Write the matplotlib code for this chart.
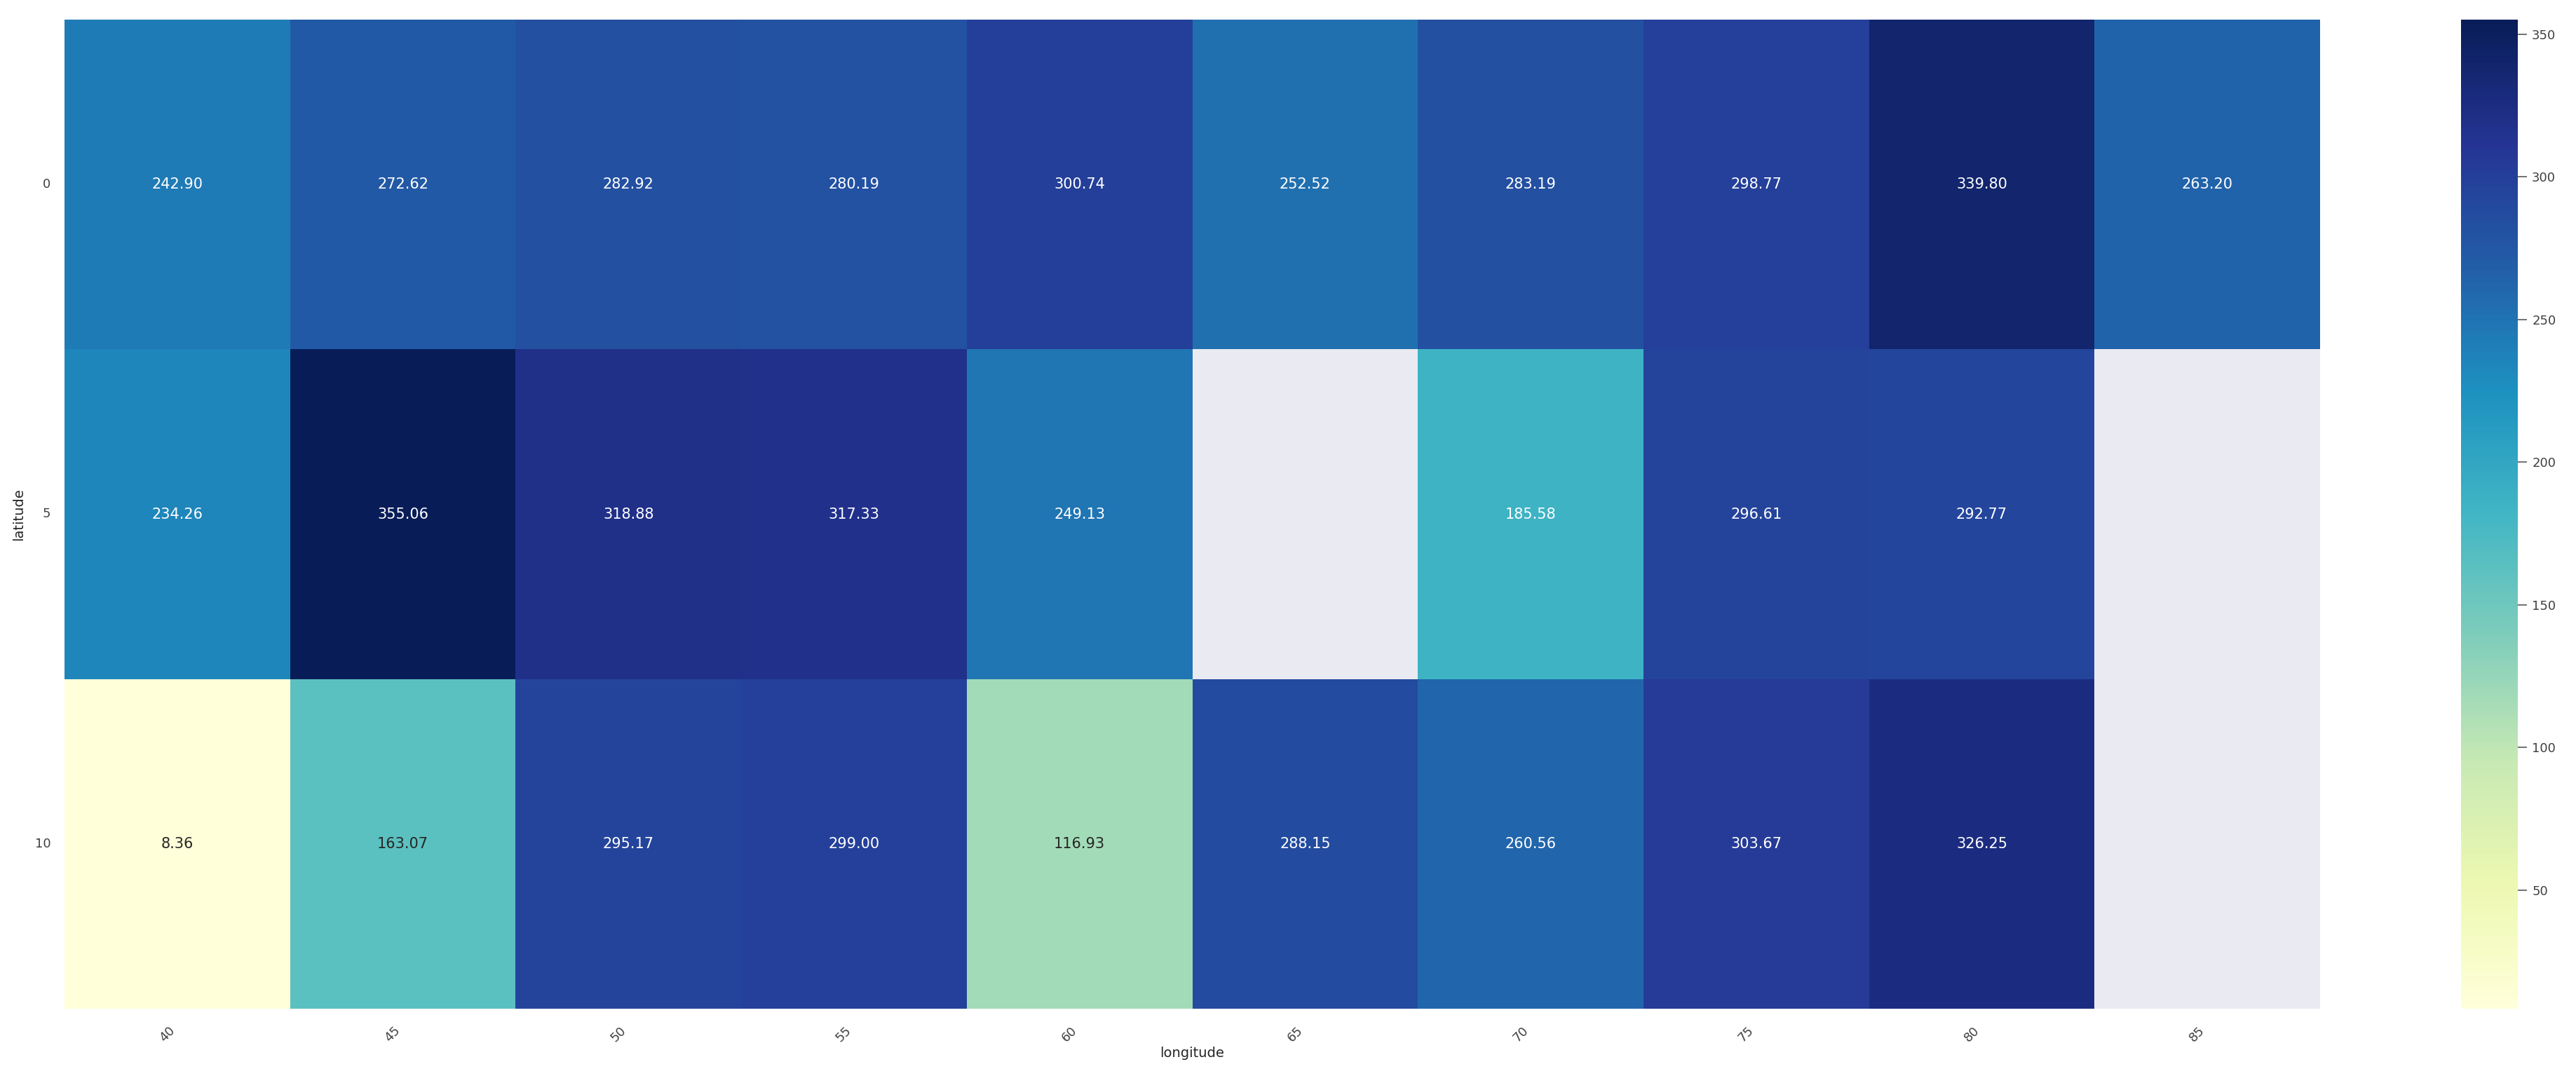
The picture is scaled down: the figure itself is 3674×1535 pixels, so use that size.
# Heatmap of mean values over a latitude/longitude grid (seaborn, YlGnBu).

import numpy as np
import pandas as pd
import matplotlib
matplotlib.use('Agg')
import matplotlib.pyplot as plt
import seaborn as sns


########## Data ##########

latitudes = [0, 5, 10]
longitudes = [40, 45, 50, 55, 60, 65, 70, 75, 80, 85]

lat0 = [242.90, 272.62, 282.92, 280.19, 300.74, 252.52, 283.19, 298.77, 339.80, 263.20]
lat5 = [234.26, 355.06, 318.88, 317.33, 249.13, np.nan, 185.58, 296.61, 292.77, np.nan]
lat10 = [8.36, 163.07, 295.17, 299.00, 116.93, 288.15, 260.56, 303.67, 326.25, np.nan]

df = pd.DataFrame([lat0, lat5, lat10], index=latitudes, columns=longitudes)
df.index.name = 'latitude'
df.columns.name = 'longitude'


########## Plotting ##########

sns.set_theme(style='darkgrid')

W, H = 3674, 1535
fig = plt.figure(figsize=(W / 100, H / 100), dpi=100)

ax = fig.add_axes([92 / W, 1 - 1439 / H, (3309 - 92) / W, (1439 - 28) / H])
cax = fig.add_axes([3510 / W, 1 - 1439 / H, 81 / W, (1439 - 28) / H])

sns.heatmap(df, ax=ax, cbar_ax=cax, cmap='YlGnBu', annot=True, fmt='.2f',
            annot_kws={'size': 15})
ax.grid(False)

# tick labels
ax.tick_params(axis='both', length=0, labelsize=13, colors='.25')
ax.tick_params(axis='y', pad=14)
ax.tick_params(axis='x', pad=16)
plt.setp(ax.get_xticklabels(), rotation=45, ha='right')
plt.setp(ax.get_yticklabels(), rotation=0)

ax.set_xlabel('longitude', fontsize=14, color='.15', labelpad=2)
ax.set_ylabel('latitude', fontsize=14, color='.15', labelpad=10)

# colorbar
cax.tick_params(labelsize=13, length=9.5, width=1.2, colors='.35', pad=5)
for lbl in cax.get_yticklabels():
    lbl.set_color('.25')

fig.savefig('out.png', dpi=100)
